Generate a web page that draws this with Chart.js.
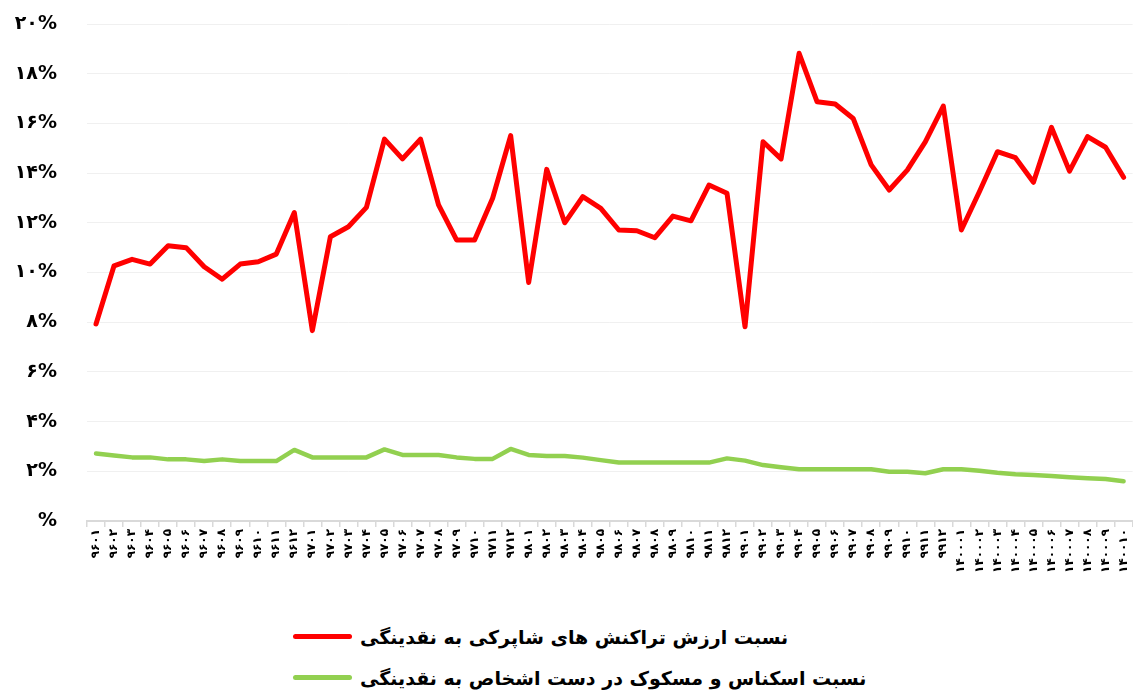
<!DOCTYPE html>
<html lang="fa">
<head>
<meta charset="utf-8">
<script src="https://cdn.jsdelivr.net/npm/chart.js@4"></script>
<style>
  body { margin: 0; width: 1133px; height: 690px; overflow: hidden; background: #fff; position: relative; font-family: "DejaVu Sans", sans-serif; }
  #wrap { position: absolute; left: 0; top: 0; width: 1140px; height: 600px; }
  #legend { position: absolute; left: 293px; top: 616px; }
  .row { display: flex; align-items: center; height: 41px; }
  .swatch { width: 59px; height: 5px; border-radius: 3px; margin-right: 8px; }
  .txt { direction: rtl; font-weight: bold; font-size: 19px; color: #000; white-space: nowrap; }
</style>
</head>
<body>
<div id="wrap"><canvas id="myChart" width="1140" height="600"></canvas></div>
<div id="legend"></div>
<script>
// months 1396/01 .. 1400/10
const labels = [
    '۹۶۰۱', '۹۶۰۲', '۹۶۰۳', '۹۶۰۴', '۹۶۰۵', '۹۶۰۶', '۹۶۰۷', '۹۶۰۸', '۹۶۰۹', '۹۶۱۰', '۹۶۱۱', '۹۶۱۲',
    '۹۷۰۱', '۹۷۰۲', '۹۷۰۳', '۹۷۰۴', '۹۷۰۵', '۹۷۰۶', '۹۷۰۷', '۹۷۰۸', '۹۷۰۹', '۹۷۱۰', '۹۷۱۱', '۹۷۱۲',
    '۹۸۰۱', '۹۸۰۲', '۹۸۰۳', '۹۸۰۴', '۹۸۰۵', '۹۸۰۶', '۹۸۰۷', '۹۸۰۸', '۹۸۰۹', '۹۸۱۰', '۹۸۱۱', '۹۸۱۲',
    '۹۹۰۱', '۹۹۰۲', '۹۹۰۳', '۹۹۰۴', '۹۹۰۵', '۹۹۰۶', '۹۹۰۷', '۹۹۰۸', '۹۹۰۹', '۹۹۱۰', '۹۹۱۱', '۹۹۱۲',
    '۱۴۰۰۰۱', '۱۴۰۰۰۲', '۱۴۰۰۰۳', '۱۴۰۰۰۴', '۱۴۰۰۰۵', '۱۴۰۰۰۶', '۱۴۰۰۰۷', '۱۴۰۰۰۸', '۱۴۰۰۰۹', '۱۴۰۰۱۰'
];

// percent
const shaparakRatio = [
    7.93, 10.27, 10.53, 10.34, 11.08, 11.0, 10.23, 9.73, 10.34, 10.43,
    10.74, 12.41, 7.66, 11.44, 11.84, 12.62, 15.37, 14.57, 15.37, 12.72,
    11.31, 11.31, 12.99, 15.51, 9.6, 14.15, 12.0, 13.05, 12.58, 11.71,
    11.68, 11.4, 12.27, 12.08, 13.52, 13.19, 7.82, 15.26, 14.57, 18.82,
    16.87, 16.78, 16.2, 14.33, 13.32, 14.12, 15.26, 16.7, 11.71, 13.25,
    14.86, 14.62, 13.63, 15.84, 14.08, 15.47, 15.04, 13.83
];
const cashRatio = [
    2.72, 2.64, 2.56, 2.56, 2.48, 2.48, 2.41, 2.48, 2.41, 2.41,
    2.41, 2.86, 2.56, 2.56, 2.56, 2.56, 2.88, 2.66, 2.66, 2.66,
    2.56, 2.5, 2.5, 2.9, 2.66, 2.62, 2.62, 2.55, 2.45, 2.35,
    2.35, 2.35, 2.35, 2.35, 2.35, 2.52, 2.43, 2.25, 2.16, 2.08,
    2.08, 2.08, 2.08, 2.08, 1.98, 1.98, 1.92, 2.08, 2.08, 2.02,
    1.94, 1.88, 1.85, 1.81, 1.76, 1.72, 1.69, 1.6
];

const seriesNames = [
    'نسبت ارزش  تراکنش های شاپرکی به نقدینگی',
    'نسبت اسکناس و مسکوک در دست اشخاص  به نقدینگی'
];

const faDigits = '۰۱۲۳۴۵۶۷۸۹';
function toFa(n) {
    return String(n).replace(/[0-9]/g, d => faDigits[d]);
}

const chart = new Chart(document.getElementById('myChart'), {
    type: 'line',
    data: {
        labels: labels,
        datasets: [{
            label: seriesNames[0],
            data: shaparakRatio,
            borderColor: '#ff0000',
            backgroundColor: '#ff0000',
            borderWidth: 5,
            pointRadius: 0,
            tension: 0,
            borderCapStyle: 'round',
            borderJoinStyle: 'round'
        }, {
            label: seriesNames[1],
            data: cashRatio,
            borderColor: '#92d050',
            backgroundColor: '#92d050',
            borderWidth: 4.5,
            pointRadius: 0,
            tension: 0,
            borderCapStyle: 'round',
            borderJoinStyle: 'round'
        }]
    },
    options: {
        responsive: false,
        devicePixelRatio: 1,
        animation: false,
        layout: { padding: { top: 24, right: 0, bottom: 0, left: 0 } },
        plugins: {
            legend: { display: false },
            tooltip: { enabled: false }
        },
        scales: {
            x: {
                offset: true,
                grid: {
                    offset: true,
                    drawOnChartArea: false,
                    drawTicks: true,
                    tickLength: 6,
                    color: '#d9d9d9',
                    lineWidth: 1.5
                },
                border: { color: '#d9d9d9', width: 2 },
                ticks: {
                    autoSkip: false,
                    minRotation: 90,
                    maxRotation: 90,
                    padding: 2,
                    color: '#000',
                    font: { family: 'DejaVu Sans', size: 12, weight: 'bold' }
                },
                afterFit: function (scale) {
                    scale.height = 79;
                    scale.paddingTop = 0;
                    scale.paddingBottom = 0;
                }
            },
            y: {
                min: 0,
                max: 20,
                grid: {
                    drawTicks: false,
                    color: '#f0f0f0',
                    lineWidth: 1
                },
                border: { display: false },
                ticks: {
                    stepSize: 2,
                    padding: 30,
                    color: '#000',
                    font: { family: 'DejaVu Sans', size: 19, weight: 'bold' },
                    callback: v => v === 0 ? '%' : toFa(v) + '%'
                },
                afterFit: function (scale) {
                    scale.width = 87;
                    scale.paddingTop = 10;
                    scale.paddingBottom = 10;
                }
            }
        }
    }
});

// legend built from the chart's datasets
const legendEl = document.getElementById('legend');
chart.data.datasets.forEach(ds => {
    const row = document.createElement('div');
    row.className = 'row';
    const sw = document.createElement('span');
    sw.className = 'swatch';
    sw.style.background = ds.borderColor;
    const t = document.createElement('span');
    t.className = 'txt';
    t.textContent = ds.label;
    row.appendChild(sw);
    row.appendChild(t);
    legendEl.appendChild(row);
});
</script>
</body>
</html>
